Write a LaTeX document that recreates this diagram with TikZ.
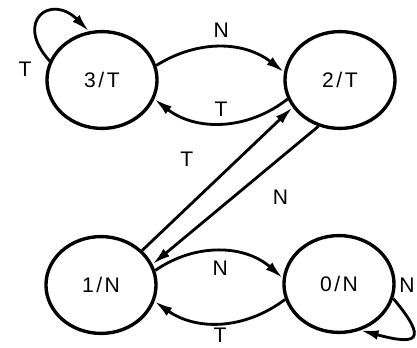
\documentclass[tikz,border=0pt]{standalone}
\usepackage{fontspec}
\setmainfont{Liberation Sans}
\usetikzlibrary{arrows.meta,shapes.geometric}

\begin{document}
\begin{tikzpicture}[x=0.025cm, y=0.025cm, every node/.style={font=\fontsize{15}{18}\selectfont\addfontfeature{LetterSpace=12}},
	state/.style={ellipse, draw, line width=2.4pt, minimum width=2.75cm, minimum height=2.42cm},
	trans/.style={line width=2pt, -{Latex[length=4.5mm,width=2.4mm]}}]
	\useasboundingbox (0,0) rectangle (417,348);
	\node[state] (s3) at (102,268) {3/T};
	\node[state] (s2) at (340,268) {2/T};
	\node[state] (s1) at (101,63) {1/N};
	\node[state] (s0) at (339,64) {0/N};
	\draw[trans] (s3.15) to[bend left=35] node[above=1mm]{N} (s2.172);
	\draw[trans] (s2.200) to[bend left=38] node[above]{T} (s3.340);
	\draw[trans] (s1.40) -- node[pos=.46, above left=3mm]{T} (s2.210);
	\draw[trans] (s2.245) -- node[pos=.36, below right=2mm]{N} (s1.22);
	\draw[trans] (s1.15) to[bend left=38] node[below=1mm]{N} (s0.174);
	\draw[trans] (s0.196) to[bend left=36] node[below=1.5pt, inner sep=1pt]{T} (s1.343);
	\draw[trans] (s3.160) to[out=132,in=135,looseness=2.8] node[pos=0, left=3mm, yshift=-2.2mm]{T} (s3.105);
	\draw[trans] (s0.345) to[out=-50,in=-15,looseness=3.2] node[pos=0, above right]{N} (s0.295);
\end{tikzpicture}
\end{document}
